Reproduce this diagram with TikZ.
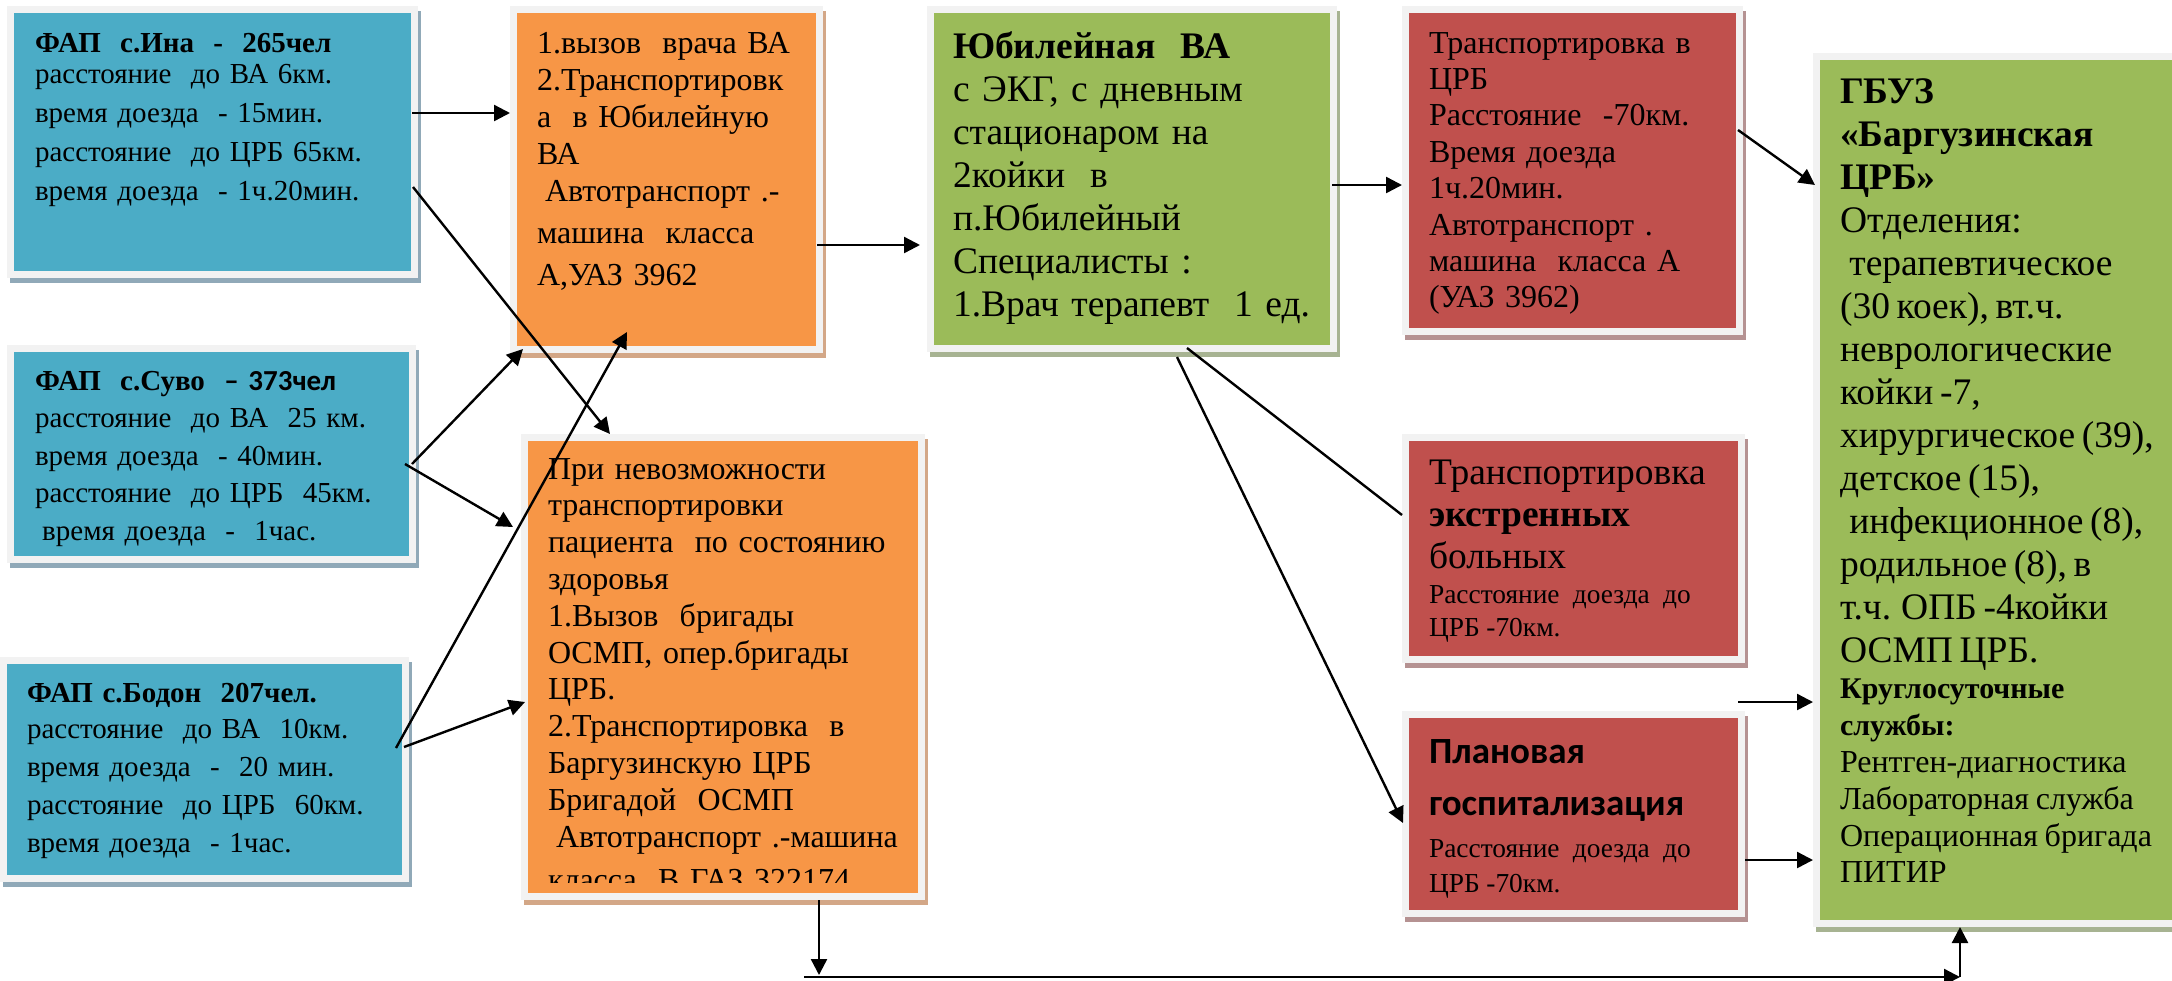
\documentclass[tikz,border=0pt]{standalone}
\usepackage{fontspec}
\setmainfont{Liberation Serif}
\newfontfamily\carl{Carlito}
\usetikzlibrary{arrows.meta,calc}
\definecolor{cblue}{HTML}{4BACC6}
\definecolor{corange}{HTML}{F79646}
\definecolor{cgreen}{HTML}{9BBB59}
\definecolor{cred}{HTML}{C0504D}
\definecolor{cframe}{HTML}{F2F2F2}
\definecolor{sblue}{HTML}{90A9B8}
\definecolor{sorange}{HTML}{D3A787}
\definecolor{sgreen}{HTML}{A7B392}
\definecolor{sred}{HTML}{B59292}
\tikzset{
  boxframe/.style={fill=cframe, inner sep=0pt, outer sep=0pt},
  txt/.style={anchor=base west, inner sep=0pt, outer sep=0pt, text width=320pt, align=left},
  arr/.style={line width=1.2pt, -{Triangle[length=8pt,width=8pt]}},
  con/.style={line width=1.2pt}
}
% name, x1, y1, x2, y2, fill colour, shadow colour
\newcommand\mkbox[7]{%
  \fill[#7] (#2+3,#3+5) rectangle (#4+3,#5+5);
  \node[boxframe, minimum width={(#4-#2)*0.5pt}, minimum height={(#5-#3)*0.5pt},
    path picture={\fill[#6] ([xshift=3.5pt,yshift=-3.5pt]path picture bounding box.north west) rectangle ([xshift=-3.5pt,yshift=3.5pt]path picture bounding box.south east);}]
    (#1) at ({(#2+#4)/2},{(#3+#5)/2}) {};}
\begin{document}
\begin{tikzpicture}[x=0.5pt,y=-0.5pt]
\useasboundingbox (0,0) rectangle (2172,980);
\clip (0,0) rectangle (2172,980);
\fill[white] (0,0) rectangle (2172,980);

% boxes
\mkbox{ina}{7}{6}{418}{278}{cblue}{sblue}
\mkbox{suvo}{7}{345}{416}{563}{cblue}{sblue}
\mkbox{bodon}{0}{657}{409}{882}{cblue}{sblue}
\mkbox{or1}{510}{6}{823}{353}{corange}{sorange}
\mkbox{or2}{521}{434}{925}{900}{corange}{sorange}
\mkbox{grn1}{927}{6}{1337}{352}{cgreen}{sgreen}
\mkbox{red1}{1402}{6}{1743}{335}{cred}{sred}
\mkbox{red2}{1402}{434}{1745}{663}{cred}{sred}
\mkbox{red3}{1402}{711}{1745}{917}{cred}{sred}
\mkbox{gbuz}{1813}{53}{2180}{927}{cgreen}{sgreen}

% texts
\node[txt, font=\fontsize{14.5pt}{19.5pt}\selectfont] (ina-t) at (35,52) {%
\textbf{ФАП\ \ с.Ина\ \ -\ \ 265чел}\\[-3.75pt]
расстояние\ \ до ВА 6км.\\
время доезда\ \ - 15мин.\\
расстояние\ \ до ЦРБ 65км.\\
время доезда\ \ - 1ч.20мин.\par};

\node[txt, font=\fontsize{14.5pt}{18.75pt}\selectfont] (suvo-t) at (35,390) {%
\textbf{ФАП\ \ с.Суво\ \ }{\carl\bfseries – 373чел}\\
расстояние\ \ до ВА\ \ 25 км.\\
время доезда\ \ - 40мин.\\
расстояние\ \ до ЦРБ\ \ 45км.\\
\hspace*{.25em}время доезда\ \ -\ \ 1час.\par};

\node[txt, font=\fontsize{14.5pt}{19pt}\selectfont] (bodon-t) at (27,702) {%
\textbf{ФАП с.Бодон\ \ 207чел.}\\[-1pt]
расстояние\ \ до ВА\ \ 10км.\\
время доезда\ \ -\ \ 20 мин.\\
расстояние\ \ до ЦРБ\ \ 60км.\\
время доезда\ \ - 1час.\par};

\node[txt, font=\fontsize{16pt}{18.5pt}\selectfont] (or1-t) at (537,53) {%
1.вызов\ \ врача ВА\\
2.Транспортировк\\
а\ \ в Юбилейную\\
ВА\\
\hspace*{.25em}Автотранспорт .-\\[2.5pt]
машина\ \ класса\\[2.5pt]
А,УАЗ 3962\par};

\node[txt, font=\fontsize{18.75pt}{21.5pt}\selectfont] (grn1-t) at (953,58) {%
\textbf{Юбилейная\ \ ВА}\\
с ЭКГ, с дневным\\
стационаром на\\
2койки\ \ в\\
п.Юбилейный\\
Специалисты :\\
1.Врач терапевт\ \ 1 ед.\par};

\node[txt, font=\fontsize{16pt}{18.2pt}\selectfont] (red1-t) at (1429,53) {%
Транспортировка в\\
ЦРБ\\
Расстояние\ \ -70км.\\
Время доезда\\
1ч.20мин.\\
Автотранспорт .\\
машина\ \ класса А\\
(УАЗ 3962)\par};

\node[txt] (gbuz-t) at (1840,103) {%
\fontsize{18.75pt}{21.5pt}\selectfont
\textbf{ГБУЗ}\\
\textbf{«Баргузинская}\\
\textbf{ЦРБ»}\\
Отделения:\\
\hspace*{.25em}терапевтическое\\
(30 коек), вт.ч.\\
неврологические\\
койки -7,\\
хирургическое (39),\\
детское (15),\\
\hspace*{.25em}инфекционное (8),\\
родильное (8), в\\
т.ч. ОПБ -4койки\\
ОСМП ЦРБ.\par
\fontsize{16pt}{18.4pt}\selectfont
{\bfseries\fontsize{15pt}{18.4pt}\selectfont Круглосуточные\\
службы:}\\
Рентген-диагностика\\
Лабораторная служба\\
Операционная бригада\\
ПИТИР\par};

\begin{scope}
\clip (528,441) rectangle (918,882);
\node[txt, font=\fontsize{16pt}{18.4pt}\selectfont] (or2-t) at (548,479) {%
При невозможности\\
транспортировки\\
пациента\ \ по состоянию\\
здоровья\\
1.Вызов\ \ бригады\\
ОСМП, опер.бригады\\
ЦРБ.\\
2.Транспортировка\ \ в\\
Баргузинскую ЦРБ\\
Бригадой\ \ ОСМП\\
\hspace*{.25em}Автотранспорт .-машина\\[3.1pt]
класса\ \ В ГАЗ 322174\par};
\end{scope}

\node[txt] (red2-t) at (1429,484) {%
\fontsize{18.75pt}{21pt}\selectfont
Транспортировка\\
\textbf{экстренных}\\
больных\par
\fontsize{13.7pt}{16.5pt}\selectfont\vspace{1pt}
Расстояние\ \ доезда\ \ до\\
ЦРБ -70км.\par};

\node[txt] (red3-t) at (1429,763) {%
\fontsize{18.5pt}{26pt}\selectfont
{\carl\bfseries Плановая\\
госпитализация}\par
\fontsize{13.7pt}{17.3pt}\selectfont\vspace{4pt}
Расстояние\ \ доезда\ \ до\\
ЦРБ -70км.\par};

% connectors
\draw[arr] ($(ina.east |- 0,113)+(-6,0)$) -- (or1.west |- 0,113);
\draw[arr] ($(ina.east |- 0,187)+(-5,0)$) -- ($(or2.north west)+(89,0)$);
\draw[arr] ($(suvo.east |- 0,464)+(-4,0)$) -- ($(or1.south west)+(13,-4)$);
\draw[arr] ($(suvo.east |- 0,464)+(-11,0)$) -- ($(or2.west |- 0,527)+(-8,0)$);
\draw[arr] ($(bodon.east |- 0,748)+(-13,0)$) -- ($(or1.south west)+(117,-21)$);
\draw[arr] ($(bodon.east |- 0,747)+(-5,0)$) -- ($(or2.west |- 0,702)+(4,0)$);
\draw[arr] ($(or1.east |- 0,245)+(-6,0)$) -- ($(grn1.west |- 0,245)+(-7,0)$);
\draw[arr] ($(grn1.east |- 0,185)+(-5,0)$) -- (red1.west |- 0,185);
\draw[arr] ($(red1.east |- 0,130)+(-5,0)$) -- ($(gbuz.west |- 0,185)+(2,0)$);
\draw[con] ($(grn1.south west)+(260,-4)$) -- (red2.west |- 0,515);
\draw[arr] ($(grn1.south west)+(250,5)$) -- ($(red3.west |- 0,823)+(1,0)$);
\coordinate (f1) at (1738,702);
\draw[arr] (f1) -- (gbuz.west |- f1);
\draw[arr] (red3.east |- 0,860) -- (gbuz.west |- 0,860);
\coordinate (d1) at (819,975);
\draw[arr] (or2.south -| d1) -- (d1);
\coordinate (h1) at (804,977);
\coordinate (h2) at (1960,977);
\draw[arr] (h1) -- (h2);
\draw[arr] (h2) -- (gbuz.south -| h2);
\end{tikzpicture}
\end{document}
